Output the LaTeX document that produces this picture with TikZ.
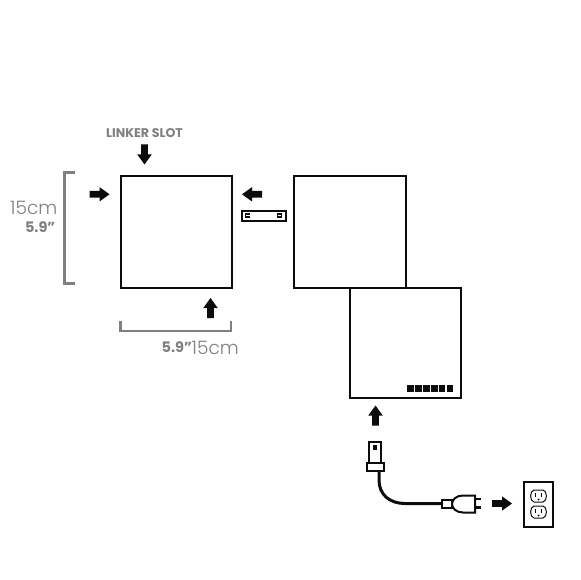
\documentclass[tikz,border=0pt]{standalone}
\usepackage{fontspec}
\setmainfont{Poppins}
\newfontfamily\lightfont[UprightFont=* Light]{Poppins}
\definecolor{dimgray}{RGB}{128,128,128}
\definecolor{inkblack}{RGB}{12,12,12}
\tikzset{
  x=1pt,y=-1pt,
  panel/.style={draw=inkblack,line width=2.4pt,line join=miter},
  bracket/.style={draw=dimgray,line width=2.4pt},
  part/.style={draw=inkblack,line width=2pt,fill=white},
  cord/.style={draw=inkblack,line width=3pt},
  dimnum/.style={text=dimgray,inner sep=0pt,font=\lightfont\fontsize{18.5}{19}\selectfont},
  diminch/.style={text=dimgray,inner sep=0pt,font=\bfseries\fontsize{14.5}{15}\selectfont},
  slotlabel/.style={text=dimgray,inner sep=0pt,font=\bfseries\fontsize{12.6}{13}\selectfont},
  blockarrow/.pic={\fill[inkblack] (-10,-3.4) -- (0,-3.4) -- (0,-7.2) -- (10,0) -- (0,7.2) -- (0,3.4) -- (-10,3.4) -- cycle;},
  socket/.pic={
    \draw[draw=inkblack,line width=1pt,fill=white] (-4.5,-6) -- (4.5,-6) .. controls (9,-5.5) and (9,5.5) .. (4.5,6) -- (-4.5,6) .. controls (-9,5.5) and (-9,-5.5) .. (-4.5,-6) -- cycle;
    \fill[inkblack] (-3.8,-3) rectangle (-2.2,1);
    \fill[inkblack] (2.2,-3) rectangle (3.8,1);
    \fill[inkblack] (0,3.6) circle (1.1);
  }
}
\begin{document}
\begin{tikzpicture}
\useasboundingbox[fill=white] (0,0) rectangle (580,580);

% panels
\draw[panel] (121,176) rectangle (232,288);
\draw[panel] (294,176) rectangle (406,288);
\draw[panel] (350,288) rectangle (461,398);

% LED row
\foreach \i in {0,...,5}
  \fill[inkblack] ({407.2+7.9*\i},385) rectangle ++(6.6,7);

% brackets
\draw[bracket] (75,172.5) -- (64.5,172.5) -- (64.5,283.5) -- (75,283.5);
\draw[bracket] (120.5,321) -- (120.5,331) -- (231,331) -- (231,321);

% labels
\node[dimnum,anchor=east] (heightcm) at (57.5,208) {15cm};
\node[diminch,anchor=east] (heightin) at (55.5,227.5) {5.9”};
\node[diminch,anchor=west] (widthin) at (161.5,347.5) {5.9”};
\node[dimnum,anchor=west] (widthcm) at (191.5,347.5) {15cm};
\node[slotlabel,anchor=center] (slot) at (144.5,133) {LINKER SLOT};

% block arrows
\pic at (144.5,154.5) [rotate=-90] {blockarrow};
\pic at (99.5,194.3) {blockarrow};
\pic at (252,194.3) [rotate=180] {blockarrow};
\pic at (210.5,308) [rotate=90] {blockarrow};
\pic at (375.5,415.5) [rotate=90] {blockarrow};
\pic at (502,503.5) {blockarrow};

% linker
\draw[part] (241.5,210.5) rectangle (285.5,220.5);
\fill[inkblack] (245,213) rectangle (250,218);
\fill[white] (246,214.6) rectangle (249.5,216.4);
\fill[inkblack] (277,213) rectangle (282,218);
\fill[white] (277.5,214.6) rectangle (281,216.4);

% cord
\draw[cord] (379,470) -- (379,480) .. controls (379,495) and (390,503.5) .. (405,503.5) -- (442,503.5);

% upper plug
\draw[part] (368.5,441.5) rectangle (380.5,463);
\fill[inkblack] (373,445) rectangle (376.5,450);
\draw[part] (366.5,462.5) rectangle (383.5,470.5);

% mains plug
\fill[inkblack] (475,497.8) rectangle (481,500.4);
\fill[inkblack] (475,506.4) rectangle (481,509);
\draw[part] (441.5,499.5) rectangle (452,508);
\draw[part] (475,495.5) -- (463,495.5) .. controls (456,495.5) and (452,500) .. (452,504) .. controls (452,508) and (456,512.5) .. (463,512.5) -- (475,512.5) -- cycle;

% wall outlet
\draw[part] (524,481.5) rectangle (552.5,526.5);
\pic at (538.5,496) {socket};
\pic at (538.5,512) {socket};
\end{tikzpicture}
\end{document}
